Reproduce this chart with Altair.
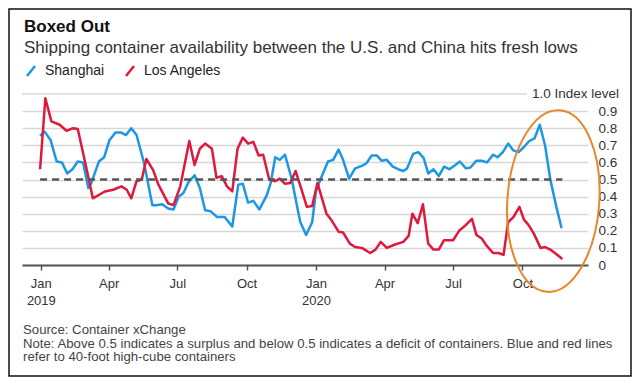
import altair as alt
import pandas as pd

# ---------------- data ----------------
series_names = ["Shanghai", "Los Angeles"]
series_colors = ["#1E96E6", "#E0193C"]

shanghai_dates = [
    "2018-12-31", "2019-01-06", "2019-01-14", "2019-01-22", "2019-01-29", "2019-02-05",
    "2019-02-12", "2019-02-19", "2019-02-26", "2019-03-05", "2019-03-09", "2019-03-19",
    "2019-03-26", "2019-04-02", "2019-04-10", "2019-04-17", "2019-04-24", "2019-05-01",
    "2019-05-08", "2019-05-18", "2019-05-29", "2019-06-03", "2019-06-11", "2019-06-19",
    "2019-06-26", "2019-07-03", "2019-07-09", "2019-07-16", "2019-07-24", "2019-07-31",
    "2019-08-07", "2019-08-14", "2019-08-23", "2019-09-02", "2019-09-12", "2019-09-20",
    "2019-09-26", "2019-10-03", "2019-10-10", "2019-10-18", "2019-10-28", "2019-11-02",
    "2019-11-08", "2019-11-14", "2019-11-21", "2019-11-30", "2019-12-11", "2019-12-19",
    "2019-12-27", "2020-01-01", "2020-01-06", "2020-01-17", "2020-01-24", "2020-01-31",
    "2020-02-06", "2020-02-14", "2020-02-22", "2020-03-02", "2020-03-08", "2020-03-15",
    "2020-03-22", "2020-03-28", "2020-04-04", "2020-04-12", "2020-04-19", "2020-04-26",
    "2020-05-01", "2020-05-09", "2020-05-16", "2020-05-23", "2020-05-29", "2020-06-05",
    "2020-06-12", "2020-06-19", "2020-06-26", "2020-07-04", "2020-07-10", "2020-07-18",
    "2020-07-24", "2020-08-01", "2020-08-08", "2020-08-15", "2020-08-23", "2020-08-29",
    "2020-09-05", "2020-09-12", "2020-09-19", "2020-09-26", "2020-10-03", "2020-10-10",
    "2020-10-17", "2020-10-24", "2020-10-31", "2020-11-07", "2020-11-15", "2020-11-22",
]
shanghai_values = [
    0.755, 0.78, 0.73, 0.605, 0.60, 0.535,
    0.56, 0.605, 0.60, 0.45, 0.48, 0.605,
    0.63, 0.73, 0.775, 0.775, 0.76, 0.80,
    0.76, 0.595, 0.35, 0.35, 0.355, 0.33,
    0.325, 0.40, 0.42, 0.485, 0.525, 0.45,
    0.32, 0.315, 0.28, 0.28, 0.225, 0.47,
    0.475, 0.365, 0.375, 0.325, 0.41, 0.48,
    0.63, 0.615, 0.645, 0.50, 0.255, 0.175,
    0.25, 0.43, 0.49, 0.605, 0.615, 0.675,
    0.615, 0.505, 0.565, 0.58, 0.595, 0.64,
    0.64, 0.61, 0.615, 0.575, 0.56, 0.55,
    0.565, 0.65, 0.66, 0.625, 0.535, 0.56,
    0.52, 0.575, 0.56, 0.585, 0.605, 0.565,
    0.57, 0.61, 0.61, 0.60, 0.645, 0.63,
    0.66, 0.71, 0.67, 0.66, 0.69, 0.725,
    0.74, 0.82, 0.70, 0.50, 0.34, 0.215,
]

la_dates = [
    "2018-12-31", "2019-01-07", "2019-01-15", "2019-01-26", "2019-02-04", "2019-02-13",
    "2019-02-19", "2019-03-03", "2019-03-11", "2019-03-27", "2019-04-07", "2019-04-18",
    "2019-04-25", "2019-05-01", "2019-05-08", "2019-05-15", "2019-05-21", "2019-05-30",
    "2019-06-06", "2019-06-19", "2019-06-26", "2019-07-05", "2019-07-17", "2019-07-24",
    "2019-07-31", "2019-08-07", "2019-08-16", "2019-08-22", "2019-08-29", "2019-09-05",
    "2019-09-12", "2019-09-19", "2019-09-26", "2019-10-03", "2019-10-10", "2019-10-17",
    "2019-10-23", "2019-10-31", "2019-11-08", "2019-11-14", "2019-11-21", "2019-11-28",
    "2019-12-05", "2019-12-13", "2019-12-20", "2019-12-27", "2020-01-03", "2020-01-15",
    "2020-01-22", "2020-01-31", "2020-02-06", "2020-02-15", "2020-02-22", "2020-03-02",
    "2020-03-13", "2020-03-20", "2020-03-27", "2020-04-04", "2020-04-15", "2020-04-26",
    "2020-05-03", "2020-05-08", "2020-05-15", "2020-05-22", "2020-05-29", "2020-06-05",
    "2020-06-12", "2020-06-19", "2020-07-01", "2020-07-09", "2020-07-17", "2020-07-26",
    "2020-08-01", "2020-08-08", "2020-08-15", "2020-08-23", "2020-08-30", "2020-09-06",
    "2020-09-12", "2020-09-19", "2020-09-27", "2020-10-03", "2020-10-09", "2020-10-16",
    "2020-10-25", "2020-10-31", "2020-11-07", "2020-11-16", "2020-11-23",
]
la_values = [
    0.56, 0.975, 0.84, 0.82, 0.785, 0.80,
    0.795, 0.555, 0.39, 0.43, 0.44, 0.46,
    0.44, 0.39, 0.49, 0.50, 0.62, 0.555,
    0.47, 0.36, 0.35, 0.46, 0.725, 0.585,
    0.68, 0.71, 0.68, 0.51, 0.52, 0.46,
    0.43, 0.68, 0.745, 0.71, 0.72, 0.64,
    0.645, 0.50, 0.49, 0.505, 0.475, 0.48,
    0.55, 0.44, 0.34, 0.345, 0.48, 0.30,
    0.26, 0.195, 0.19, 0.125, 0.105, 0.10,
    0.07, 0.09, 0.135, 0.10, 0.12, 0.135,
    0.17, 0.30, 0.245, 0.355, 0.125, 0.09,
    0.09, 0.145, 0.145, 0.20, 0.23, 0.27,
    0.175, 0.155, 0.11, 0.07, 0.07, 0.06,
    0.25, 0.28, 0.34, 0.265, 0.235, 0.185,
    0.10, 0.105, 0.09, 0.06, 0.035,
]

y_tick_values = [0, 0.1, 0.2, 0.3, 0.4, 0.5, 0.6, 0.7, 0.8, 0.9]
x_tick_months = [(2019, 1), (2019, 4), (2019, 7), (2019, 10),
                 (2020, 1), (2020, 4), (2020, 7), (2020, 10)]
balance_level = 0.5
top_level = 1.0
top_level_label = "1.0 Index level"
ellipse_center = {"date": "2020-11-11", "value": 0.374}

title_text = "Boxed Out"
subtitle_text = "Shipping container availability between the U.S. and China hits fresh lows"
note_lines = [
    "Source: Container xChange",
    "Note: Above 0.5 indicates a surplus and below 0.5 indicates a deficit of containers. Blue and red lines",
    "refer to 40-foot high-cube containers",
]

FONT = "Liberation Sans"

# ---------------- tables ----------------
lines_df = pd.DataFrame({
    "date": shanghai_dates + la_dates,
    "value": shanghai_values + la_values,
    "series": [series_names[0]] * len(shanghai_dates) + [series_names[1]] * len(la_dates),
})
dash_df = pd.DataFrame({"date": [la_dates[0]], "end": [la_dates[-1]], "value": [balance_level]})
top_df = pd.DataFrame({"value": [top_level], "label": [top_level_label]})
ell_df = pd.DataFrame([ellipse_center])
one = pd.DataFrame({"k": [0]})

x_scale = alt.Scale(
    type="utc",
    domain=[alt.DateTime(year=2018, month=12, date=7, utc=True),
            alt.DateTime(year=2020, month=12, date=27, utc=True)],
)
y_scale = alt.Scale(domain=[0, 1], nice=False)

x_axis = alt.Axis(
    values=[alt.DateTime(year=y, month=m, date=1, utc=True) for y, m in x_tick_months],
    labelExpr="utcFormat(datum.value, '%m') == '01' ? [utcFormat(datum.value, '%b'), utcFormat(datum.value, '%Y')] : utcFormat(datum.value, '%b')",
    title=None, grid=False, domain=True, domainColor="#555555", domainWidth=2,
    ticks=True, tickSize=5, tickColor="#555555", tickWidth=1.5,
    labelFont=FONT, labelFontSize=13, labelColor="#333333", labelPadding=7,
    labelLineHeight=17, labelAlign="center", labelBaseline="top",
    labelOverlap=False,
)
y_axis = alt.Axis(
    orient="right", values=y_tick_values, format=".1~f", title=None,
    grid=True, gridColor="#D8D8D8", gridWidth=1.6, domain=False, ticks=False,
    labelFont=FONT, labelFontSize=13.5, labelColor="#333333", labelPadding=10,
    labelAlign="left", labelOverlap=False,
)

X = alt.X("date:T", scale=x_scale, axis=x_axis)
Y = alt.Y("value:Q", scale=y_scale, axis=y_axis)

lines = alt.Chart(lines_df).mark_line(strokeWidth=2.5, strokeJoin="round").encode(
    x=X,
    y=Y,
    color=alt.Color(
        "series:N",
        scale=alt.Scale(domain=series_names, range=series_colors),
        legend=alt.Legend(
            orient="none", legendX=2, legendY=-30, direction="horizontal", title=None,
            symbolType="M -0.8 1 L 0.8 -1", symbolSize=100, symbolStrokeWidth=2.5,
            labelFont=FONT, labelFontSize=14, labelColor="#222222", labelOffset=7,
            columnPadding=16, padding=0,
        ),
    ),
)

top_grid = alt.Chart(top_df).mark_rule(color="#D8D8D8", strokeWidth=1.6).encode(
    y=Y, x=alt.value(0), x2=alt.value(505)
)

dashed = alt.Chart(dash_df).mark_rule(color="#555555", strokeWidth=2.5, strokeDash=[7, 5]).encode(
    x=X, x2="end:T", y=Y
)

k = 0.552
a = 0.505
ellipse_path = (
    f"M {a} 0 C {a} {k}, {a*k:.3f} 1, 0 1 "
    f"C {-a*k:.3f} 1, {-a} {k}, {-a} 0 "
    f"C {-a} {-k}, {-a*k:.3f} -1, 0 -1 "
    f"C {a*k:.3f} -1, {a} {-k}, {a} 0 Z"
)
ellipse = alt.Chart(ell_df).mark_point(
    shape=ellipse_path, size=33124, filled=False, stroke="#E8862A",
    strokeWidth=2, opacity=1, angle=4,
).encode(x=X, y=Y)

top_label = alt.Chart(top_df).mark_text(
    font=FONT, fontSize=13.5, color="#333333", align="right", baseline="middle",
).encode(x=alt.value(597), y=Y, text="label:N")

title = alt.Chart(one).mark_text(
    text=title_text, font=FONT, fontSize=17, fontWeight="bold", color="#111111",
    align="left", baseline="alphabetic",
).encode(x=alt.value(2), y=alt.value(-62))

subtitle = alt.Chart(one).mark_text(
    text=subtitle_text, font=FONT, fontSize=17, color="#333333",
    align="left", baseline="alphabetic",
).encode(x=alt.value(2), y=alt.value(-41))

notes = alt.Chart(one).mark_text(
    text=note_lines, font=FONT, fontSize=13.2, lineHeight=13.6, color="#444444",
    align="left", baseline="alphabetic",
).encode(x=alt.value(1), y=alt.value(240))

border = alt.Chart(one).mark_rect(fill=None, filled=False, stroke="#111111", strokeWidth=1.5).encode(
    x=alt.value(-13), x2=alt.value(609), y=alt.value(-85), y2=alt.value(282)
)

chart = alt.layer(
    lines, top_grid, dashed, ellipse, top_label, title, subtitle, notes, border
).properties(
    width=566, height=171,
    autosize=alt.AutoSizeParams(type="none"),
    padding={"left": 14, "top": 86, "right": 44, "bottom": 112},
    background="white",
).configure_view(stroke=None)

chart.save("out.html", embed_options={"renderer": "svg", "actions": False})
